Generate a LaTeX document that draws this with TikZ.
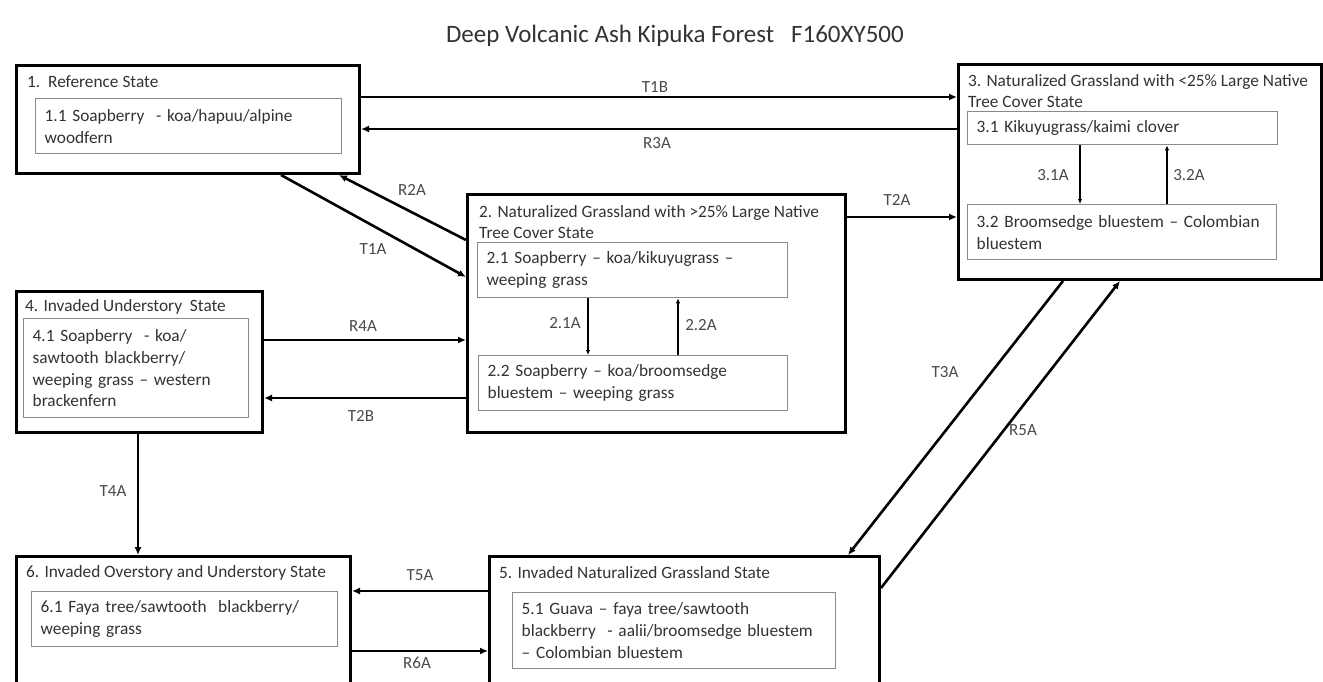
\documentclass[tikz,border=0pt]{standalone}
\usepackage{fontspec}
\setmainfont{Carlito}
\usetikzlibrary{arrows.meta}
\definecolor{txt}{HTML}{333333}
\definecolor{lbl}{HTML}{4A4A4A}
\definecolor{innerline}{HTML}{8A8A8A}
\begin{document}
\begin{tikzpicture}[x=1pt,y=-1pt,
  outerbox/.style={draw=black, line width=3pt, inner sep=0pt, anchor=north west},
  innerbox/.style={draw=innerline, line width=1.4pt, anchor=north west, inner xsep=9pt, inner ysep=0pt,
     align=left, text=txt, font=\fontsize{17.3}{21.8}\selectfont},
  ttl/.style={anchor=west, inner sep=0pt, align=left, text=txt, font=\fontsize{17.3}{21.8}\selectfont},
  lab/.style={inner sep=0pt, text=lbl, font=\fontsize{17}{20}\selectfont},
  arr/.style={line width=2.6pt, -{Latex[length=8pt,width=7pt]}},
  iarr/.style={line width=1.1pt, -{Latex[length=5pt,width=4.5pt]}}
]
\clip (0,0) rectangle (1323,682);
\fill[white] (0,0) rectangle (1323,682);

% title
\node[inner sep=0pt, text=txt, font=\fontsize{25}{30}\selectfont] (title) at (675,36) {Deep Volcanic Ash Kipuka Forest \ \ F160XY500};

% State 1
\node[outerbox, minimum width=343pt, minimum height=108pt] (s1) at (15,64) {};
\node[ttl] (t1) at (27,82) {1.\ \ Reference State};
\node[innerbox, text width=288pt, minimum height=55pt] (c11) at (35,98) {1.1 Soapberry \ - koa/hapuu/alpine\\woodfern};

% State 3
\node[outerbox, minimum width=363pt, minimum height=215pt] (s3) at (957,63) {};
\node[ttl] (t3) at (968,91) {3. Naturalized Grassland with <25\% Large Native\\Tree Cover State};
\node[innerbox, text width=292pt, minimum height=33pt] (c31) at (967,111) {3.1 Kikuyugrass/kaimi clover};
\node[innerbox, text width=291pt, minimum height=55pt] (c32) at (967,204) {3.2 Broomsedge bluestem -- Colombian\\bluestem};

% State 2
\node[outerbox, minimum width=378pt, minimum height=238pt] (s2) at (466,193) {};
\node[ttl] (t2) at (479,222) {2. Naturalized Grassland with >25\% Large Native\\Tree Cover State};
\node[innerbox, text width=292pt, minimum height=55pt] (c21) at (477,242) {2.1 Soapberry -- koa/kikuyugrass --\\weeping grass};
\node[innerbox, text width=291pt, minimum height=55pt] (c22) at (478,355) {2.2 Soapberry -- koa/broomsedge\\bluestem -- weeping grass};

% State 4
\node[outerbox, minimum width=246pt, minimum height=141pt] (s4) at (15,290) {};
\node[ttl] (t4) at (25,307) {4. Invaded Understory \ State};
\node[innerbox, text width=207pt, minimum height=99pt] (c41) at (23,318) {4.1 Soapberry \ - koa/\\sawtooth blackberry/\\weeping grass -- western\\brackenfern};

% State 6
\node[outerbox, minimum width=334pt, minimum height=170pt] (s6) at (15,555) {};
\node[ttl] (t6) at (26,573) {6. Invaded Overstory and Understory State};
\node[innerbox, text width=288pt, minimum height=55pt] (c61) at (31,591) {6.1 Faya tree/sawtooth \ blackberry/\\weeping grass};

% State 5
\node[outerbox, minimum width=390pt, minimum height=170pt] (s5) at (488,555) {};
\node[ttl] (t5) at (499,573) {5. Invaded Naturalized Grassland State};
\node[innerbox, text width=305pt, minimum height=76pt] (c51) at (512,592) {5.1 Guava -- faya tree/sawtooth\\blackberry \ - aalii/broomsedge bluestem\\-- Colombian bluestem};

% connectors between states
\draw[arr] (s1.east |- 0,97) -- (s3.west |- 0,97);
\draw[arr] (s3.west |- 0,129) -- (s1.east |- 0,129);
\draw[arr] (s2.east |- 0,217) -- (s3.west |- 0,217);
\draw[arr] (s1.south -| 281,0) -- (s2.west |- 0,277);
\draw[arr] (s2.west |- 0,240) -- (s1.south -| 339,0);
\draw[arr] (s4.east |- 0,340) -- (s2.west |- 0,340);
\draw[arr] (s2.west |- 0,398) -- (s4.east |- 0,398);
\draw[arr] (s4.south -| 138,0) -- (s6.north -| 138,0);
\draw[arr] (s5.west |- 0,591) -- (s6.east |- 0,591);
\draw[arr] (s6.east |- 0,651) -- (s5.west |- 0,651);
\draw[arr] (s3.south -| 1063,0) -- (s5.north -| 848,0);
\draw[arr] (s5.east |- 0,588) -- (s3.south -| 1120,0);

% connectors inside states
\draw[iarr] (c21.south -| 588,0) -- (c22.north -| 588,0);
\draw[iarr] (c22.north -| 678,0) -- (c21.south -| 678,0);
\draw[iarr] (c31.south -| 1080,0) -- (c32.north -| 1080,0);
\draw[iarr] (c32.north -| 1167,0) -- (c31.south -| 1167,0);

% labels
\node[lab] (lT1B) at (655,87) {T1B};
\node[lab] (lR3A) at (657,143) {R3A};
\node[lab] (lT2A) at (897,200) {T2A};
\node[lab] (lR2A) at (412,190) {R2A};
\node[lab] (lT1A) at (373,249) {T1A};
\node[lab] (lR4A) at (363,326) {R4A};
\node[lab] (lT2B) at (361,416) {T2B};
\node[lab] (lT4A) at (113,491) {T4A};
\node[lab] (lT5A) at (420,575) {T5A};
\node[lab] (lR6A) at (417,663) {R6A};
\node[lab] (lT3A) at (945,372) {T3A};
\node[lab] (lR5A) at (1023,430) {R5A};
\node[lab] (l21A) at (565,323) {2.1A};
\node[lab] (l22A) at (701,325) {2.2A};
\node[lab] (l31A) at (1053,175) {3.1A};
\node[lab] (l32A) at (1189,175) {3.2A};
\end{tikzpicture}
\end{document}
